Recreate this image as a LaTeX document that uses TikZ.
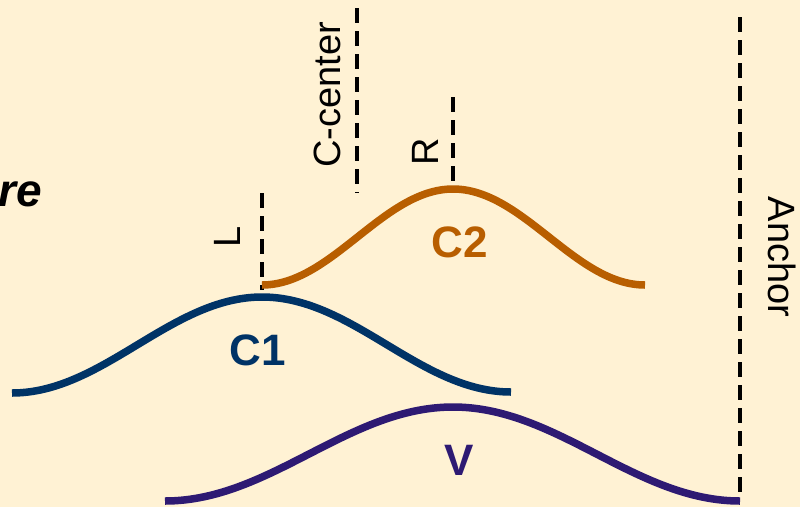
\documentclass[tikz,border=0pt]{standalone}
\usepackage{fontspec}
\setmainfont{Liberation Sans}
\definecolor{bgcol}{RGB}{255,242,212}
\definecolor{cblue}{RGB}{0,51,102}
\definecolor{corange}{RGB}{184,94,0}
\definecolor{cpurple}{RGB}{46,26,115}
\tikzset{
  curve/.style={line width=7.5pt},
  guide/.style={line width=3.3pt, dash pattern=on 15pt off 8pt},
  lab/.style={inner sep=0pt, font=\fontsize{38}{40}\selectfont},
  clab/.style={inner sep=0pt, font=\fontsize{44}{46}\selectfont\bfseries},
}
\begin{document}
\begin{tikzpicture}[x=1pt,y=-1pt]
\fill[bgcol] (0,0) rectangle (800,507);
\useasboundingbox (0,0) rectangle (800,507);
% coordinates
\coordinate (c1a) at (12,393);
\coordinate (c1p) at (262,297);
\coordinate (c1b) at (511,392);
\coordinate (c2a) at (262,285);
\coordinate (c2p) at (453,189);
\coordinate (c2b) at (645,285);
\coordinate (va) at (165,501);
\coordinate (vp) at (453,407);
\coordinate (vb) at (740,501);
\coordinate (Ltop) at (262,193);
\coordinate (Lbot) at (262,290);
\coordinate (Ctop) at (357,8);
\coordinate (Cbot) at (357,193);
\coordinate (Rtop) at (453,97);
\coordinate (Rbot) at (453,189);
\coordinate (Atop) at (740,17);
\coordinate (Abot) at (740,498);
% dashed guides
\draw[guide] (Ltop) -- (Lbot);
\draw[guide] (Ctop) -- (Cbot);
\draw[guide] (Rtop) -- (Rbot);
\draw[guide] (Atop) -- (Abot);
% curves
\draw[curve, cblue] (c1a) .. controls (103,393) and (171,297) .. (c1p)
  .. controls (353,297) and (420,392) .. (c1b);
\draw[curve, corange] (c2a) .. controls (331.6,285) and (383.4,189) .. (c2p)
  .. controls (523,189) and (575,285) .. (c2b);
\draw[curve, cpurple] (va) .. controls (270,501) and (348,407) .. (vp)
  .. controls (557.5,407) and (635.5,501) .. (vb);
% labels
\node[clab, text=cblue] (t1) at (257.5,350.5) {C1};
\node[clab, text=corange] (t2) at (459.5,242.5) {C2};
\node[clab, text=cpurple] (tv) at (459,460) {V};
\node[lab, rotate=90] (tL) at (227,237) {L};
\node[lab, rotate=90] (tC) at (327.5,95) {C-center};
\node[lab, rotate=90] (tR) at (425.5,152) {R};
\node[lab, rotate=-90] (tA) at (782,257) {Anchor};
\node[inner sep=0pt, anchor=base east, font=\fontsize{46}{48}\selectfont\bfseries\itshape] (tre) at (42,206) {re};
\end{tikzpicture}
\end{document}
